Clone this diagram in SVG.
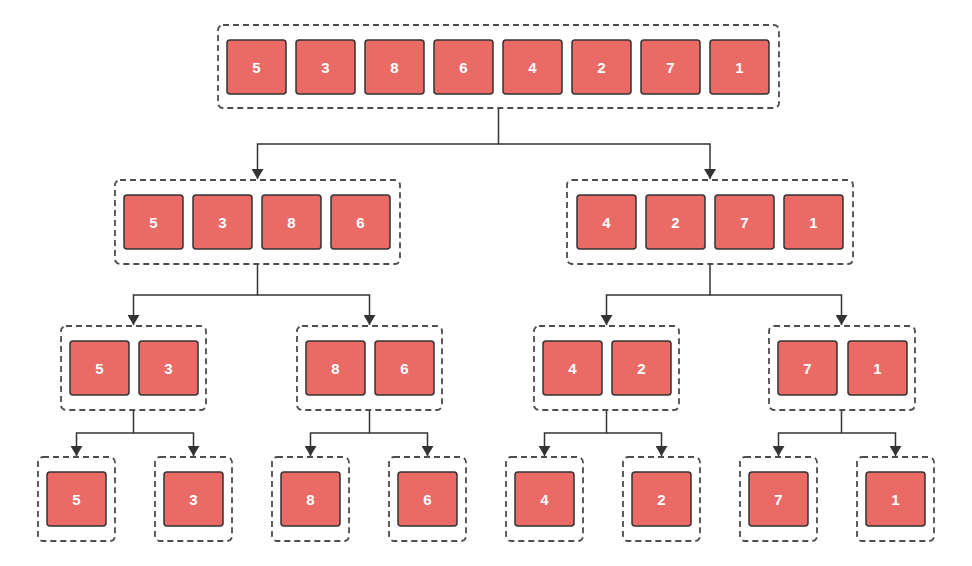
<svg xmlns="http://www.w3.org/2000/svg" width="972" height="566" viewBox="0 0 972 566">
<defs>
<style>
.box{fill:none;stroke:#4d4d4d;stroke-width:1.8;stroke-dasharray:6 4}
.cell{fill:#EA6B66;stroke:#333333;stroke-width:1.5}
.t{font-family:"Liberation Sans",Arial,sans-serif;font-weight:bold;font-size:15px;fill:#ffffff;text-anchor:middle;dominant-baseline:central}
.c{fill:none;stroke:#333333;stroke-width:1.5}
</style>
<marker id="arr" viewBox="0 0 10 12" refX="10" refY="6" markerWidth="10" markerHeight="12" markerUnits="userSpaceOnUse" orient="auto">
<path d="M0,0 L10,6 L0,12 Z" fill="#333333"/>
</marker>
</defs>
<rect width="972" height="566" fill="#ffffff"/>
<g id="connectors">
<path class="c" d="M498.5,108 V144 H257.5 V179" marker-end="url(#arr)"/>
<path class="c" d="M498.5,144 H710 V179" marker-end="url(#arr)"/>
<path class="c" d="M257.5,264 V295 H133.5 V325" marker-end="url(#arr)"/>
<path class="c" d="M257.5,295 H369.5 V325" marker-end="url(#arr)"/>
<path class="c" d="M710,264 V295 H606.5 V325" marker-end="url(#arr)"/>
<path class="c" d="M710,295 H841.5 V325" marker-end="url(#arr)"/>
<path class="c" d="M133.5,410 V433 H76.5 V456" marker-end="url(#arr)"/>
<path class="c" d="M133.5,433 H193.5 V456" marker-end="url(#arr)"/>
<path class="c" d="M369.5,410 V433 H310.5 V456" marker-end="url(#arr)"/>
<path class="c" d="M369.5,433 H427.5 V456" marker-end="url(#arr)"/>
<path class="c" d="M606.5,410 V433 H544.5 V456" marker-end="url(#arr)"/>
<path class="c" d="M606.5,433 H661.5 V456" marker-end="url(#arr)"/>
<path class="c" d="M841.5,410 V433 H778.5 V456" marker-end="url(#arr)"/>
<path class="c" d="M841.5,433 H895.5 V456" marker-end="url(#arr)"/>
</g>
<g id="n-root">
<rect class="box" x="218" y="25" width="561" height="83" rx="5"/>
<rect class="cell" x="227" y="40" width="59" height="54" rx="3"/><text class="t" x="256.5" y="67">5</text>
<rect class="cell" x="296" y="40" width="59" height="54" rx="3"/><text class="t" x="325.5" y="67">3</text>
<rect class="cell" x="365" y="40" width="59" height="54" rx="3"/><text class="t" x="394.5" y="67">8</text>
<rect class="cell" x="434" y="40" width="59" height="54" rx="3"/><text class="t" x="463.5" y="67">6</text>
<rect class="cell" x="503" y="40" width="59" height="54" rx="3"/><text class="t" x="532.5" y="67">4</text>
<rect class="cell" x="572" y="40" width="59" height="54" rx="3"/><text class="t" x="601.5" y="67">2</text>
<rect class="cell" x="641" y="40" width="59" height="54" rx="3"/><text class="t" x="670.5" y="67">7</text>
<rect class="cell" x="710" y="40" width="59" height="54" rx="3"/><text class="t" x="739.5" y="67">1</text>
</g>
<g id="n-l">
<rect class="box" x="115" y="180" width="285" height="84" rx="5"/>
<rect class="cell" x="124" y="195" width="59" height="54" rx="3"/><text class="t" x="153.5" y="222">5</text>
<rect class="cell" x="193" y="195" width="59" height="54" rx="3"/><text class="t" x="222.5" y="222">3</text>
<rect class="cell" x="262" y="195" width="59" height="54" rx="3"/><text class="t" x="291.5" y="222">8</text>
<rect class="cell" x="331" y="195" width="59" height="54" rx="3"/><text class="t" x="360.5" y="222">6</text>
</g>
<g id="n-r">
<rect class="box" x="567" y="180" width="286" height="84" rx="5"/>
<rect class="cell" x="577" y="195" width="59" height="54" rx="3"/><text class="t" x="606.5" y="222">4</text>
<rect class="cell" x="646" y="195" width="59" height="54" rx="3"/><text class="t" x="675.5" y="222">2</text>
<rect class="cell" x="715" y="195" width="59" height="54" rx="3"/><text class="t" x="744.5" y="222">7</text>
<rect class="cell" x="784" y="195" width="59" height="54" rx="3"/><text class="t" x="813.5" y="222">1</text>
</g>
<g id="n-ll">
<rect class="box" x="61" y="326" width="145" height="84" rx="5"/>
<rect class="cell" x="70" y="341" width="59" height="54" rx="3"/><text class="t" x="99.5" y="368">5</text>
<rect class="cell" x="139" y="341" width="59" height="54" rx="3"/><text class="t" x="168.5" y="368">3</text>
</g>
<g id="n-lr">
<rect class="box" x="297" y="326" width="145" height="84" rx="5"/>
<rect class="cell" x="306" y="341" width="59" height="54" rx="3"/><text class="t" x="335.5" y="368">8</text>
<rect class="cell" x="375" y="341" width="59" height="54" rx="3"/><text class="t" x="404.5" y="368">6</text>
</g>
<g id="n-rl">
<rect class="box" x="534" y="326" width="145" height="84" rx="5"/>
<rect class="cell" x="543" y="341" width="59" height="54" rx="3"/><text class="t" x="572.5" y="368">4</text>
<rect class="cell" x="612" y="341" width="59" height="54" rx="3"/><text class="t" x="641.5" y="368">2</text>
</g>
<g id="n-rr">
<rect class="box" x="769" y="326" width="146" height="84" rx="5"/>
<rect class="cell" x="778" y="341" width="59" height="54" rx="3"/><text class="t" x="807.5" y="368">7</text>
<rect class="cell" x="848" y="341" width="59" height="54" rx="3"/><text class="t" x="877.5" y="368">1</text>
</g>
<g id="leaf-5"><rect class="box" x="38" y="457" width="77" height="84" rx="5"/><rect class="cell" x="47" y="472" width="59" height="54" rx="3"/><text class="t" x="76.5" y="499">5</text></g>
<g id="leaf-3"><rect class="box" x="155" y="457" width="77" height="84" rx="5"/><rect class="cell" x="164" y="472" width="59" height="54" rx="3"/><text class="t" x="193.5" y="499">3</text></g>
<g id="leaf-8"><rect class="box" x="272" y="457" width="77" height="84" rx="5"/><rect class="cell" x="281" y="472" width="59" height="54" rx="3"/><text class="t" x="310.5" y="499">8</text></g>
<g id="leaf-6"><rect class="box" x="389" y="457" width="77" height="84" rx="5"/><rect class="cell" x="398" y="472" width="59" height="54" rx="3"/><text class="t" x="427.5" y="499">6</text></g>
<g id="leaf-4"><rect class="box" x="506" y="457" width="77" height="84" rx="5"/><rect class="cell" x="515" y="472" width="59" height="54" rx="3"/><text class="t" x="544.5" y="499">4</text></g>
<g id="leaf-2"><rect class="box" x="623" y="457" width="77" height="84" rx="5"/><rect class="cell" x="632" y="472" width="59" height="54" rx="3"/><text class="t" x="661.5" y="499">2</text></g>
<g id="leaf-7"><rect class="box" x="740" y="457" width="77" height="84" rx="5"/><rect class="cell" x="749" y="472" width="59" height="54" rx="3"/><text class="t" x="778.5" y="499">7</text></g>
<g id="leaf-1"><rect class="box" x="857" y="457" width="77" height="84" rx="5"/><rect class="cell" x="866" y="472" width="59" height="54" rx="3"/><text class="t" x="895.5" y="499">1</text></g>
</svg>
